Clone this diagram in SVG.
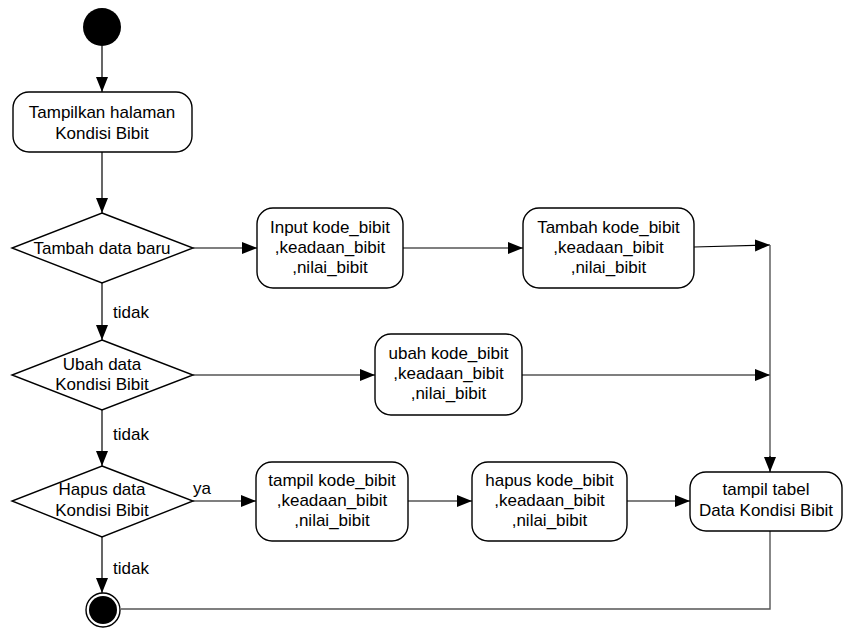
<svg xmlns="http://www.w3.org/2000/svg" width="845" height="628" viewBox="0 0 845 628">
<style>
.n{fill:#fff;stroke:#000;stroke-width:1.4}
.t{font-family:"Liberation Sans",Arial,sans-serif;font-size:17px;fill:#000;text-anchor:middle}
.l{font-family:"Liberation Sans",Arial,sans-serif;font-size:17px;fill:#000}
.c{fill:none;stroke:#000;stroke-width:1.2}
.g{fill:none;stroke:#555;stroke-width:1.4}
</style>
<defs>
<marker id="a" markerUnits="userSpaceOnUse" markerWidth="16" markerHeight="14" refX="15" refY="7" orient="auto">
<path d="M0,1 L15,7 L0,13 Z" fill="#000"/>
</marker>
</defs>
<g id="connectors">
<line class="c" x1="102" y1="46" x2="102" y2="92" marker-end="url(#a)"/>
<line class="c" x1="102" y1="152" x2="102" y2="213" marker-end="url(#a)"/>
<line class="c" x1="102" y1="283" x2="102" y2="340" marker-end="url(#a)"/>
<line class="c" x1="102" y1="410" x2="102" y2="466" marker-end="url(#a)"/>
<line class="c" x1="102" y1="537" x2="102" y2="593" marker-end="url(#a)"/>
<line class="c" x1="193" y1="248" x2="257" y2="248" marker-end="url(#a)"/>
<line class="c" x1="403" y1="248" x2="523" y2="248" marker-end="url(#a)"/>
<line class="c" x1="694" y1="247" x2="770" y2="245" marker-end="url(#a)"/>
<line class="c" x1="193" y1="375" x2="375" y2="375" marker-end="url(#a)"/>
<line class="c" x1="522" y1="375" x2="770" y2="375" marker-end="url(#a)"/>
<line class="c" x1="193" y1="501" x2="256" y2="501" marker-end="url(#a)"/>
<line class="c" x1="408" y1="501" x2="472" y2="501" marker-end="url(#a)"/>
<line class="c" x1="627" y1="501" x2="690" y2="501" marker-end="url(#a)"/>
<line class="g" x1="770" y1="245" x2="770" y2="458"/>
<line class="c" x1="770" y1="456" x2="770" y2="472" marker-end="url(#a)"/>
<polyline class="g" points="770,531 770,609 121,609"/>
<text class="l" x="113" y="318">tidak</text>
<text class="l" x="113" y="440">tidak</text>
<text class="l" x="113" y="574">tidak</text>
<text class="l" x="193" y="494">ya</text>
</g>
<g id="start"><circle cx="102" cy="27" r="19" fill="#000"/></g>
<g id="n1"><rect class="n" x="13" y="92" width="179" height="60" rx="16"/>
<text class="t" x="102" y="118">Tampilkan halaman</text><text class="t" x="102" y="139">Kondisi Bibit</text></g>
<g id="d1"><polygon class="n" points="102,213 193,248 102,283 12,248"/>
<text class="t" x="102" y="254">Tambah data baru</text></g>
<g id="n2"><rect class="n" x="257" y="208" width="146" height="80" rx="16"/>
<text class="t" x="330" y="233">Input kode_bibit</text><text class="t" x="330" y="253">,keadaan_bibit</text><text class="t" x="330" y="273">,nilai_bibit</text></g>
<g id="n3"><rect class="n" x="523" y="208" width="171" height="80" rx="16"/>
<text class="t" x="608.5" y="233">Tambah kode_bibit</text><text class="t" x="608.5" y="253">,keadaan_bibit</text><text class="t" x="608.5" y="273">,nilai_bibit</text></g>
<g id="d2"><polygon class="n" points="102,340 193,375 102,410 12,375"/>
<text class="t" x="102" y="370">Ubah data</text><text class="t" x="102" y="390">Kondisi Bibit</text></g>
<g id="n4"><rect class="n" x="375" y="334" width="147" height="81" rx="16"/>
<text class="t" x="448.5" y="359">ubah kode_bibit</text><text class="t" x="448.5" y="379">,keadaan_bibit</text><text class="t" x="448.5" y="399">,nilai_bibit</text></g>
<g id="d3"><polygon class="n" points="102,466 193,501 102,537 12,501"/>
<text class="t" x="102" y="495">Hapus data</text><text class="t" x="102" y="516">Kondisi Bibit</text></g>
<g id="n5"><rect class="n" x="256" y="462" width="152" height="79" rx="16"/>
<text class="t" x="332" y="486">tampil kode_bibit</text><text class="t" x="332" y="506">,keadaan_bibit</text><text class="t" x="332" y="526">,nilai_bibit</text></g>
<g id="n6"><rect class="n" x="472" y="462" width="155" height="79" rx="16"/>
<text class="t" x="549.5" y="486">hapus kode_bibit</text><text class="t" x="549.5" y="506">,keadaan_bibit</text><text class="t" x="549.5" y="526">,nilai_bibit</text></g>
<g id="n7"><rect class="n" x="690" y="472" width="152" height="59" rx="16"/>
<text class="t" x="766" y="495">tampil tabel</text><text class="t" x="766" y="516">Data Kondisi Bibit</text></g>
<g id="end"><circle cx="103" cy="610" r="17" fill="#fff" stroke="#000" stroke-width="1.4"/><circle cx="103" cy="610" r="14" fill="#000"/></g>
</svg>
